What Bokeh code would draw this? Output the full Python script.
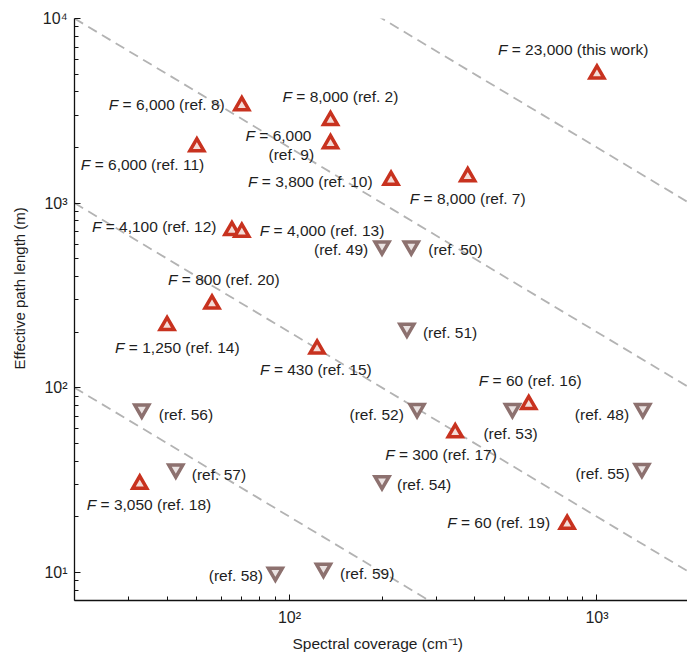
from bokeh.plotting import figure
from bokeh.models import ColumnDataSource, FixedTicker, Range1d, Title
from bokeh.core.properties import value
from bokeh.embed import file_html
from bokeh.resources import INLINE

# ---------------- data ----------------
up_refs = ["this work", "2", "7", "8", "9", "10", "11", "12", "13", "14",
           "15", "16", "17", "18", "19", "20"]
up_F = ["23,000", "8,000", "8,000", "6,000", "6,000", "3,800", "6,000", "4,100",
        "4,000", "1,250", "430", "60", "300", "3,050", "60", "800"]
up_x = [1000, 136, 380, 70, 136, 214, 50, 65, 70, 40, 123, 600, 346, 32.6, 800, 56]
up_y = [5000, 2800, 1390, 3370, 2100, 1330, 2020, 710, 695, 217, 162, 81, 57, 30, 18.2, 284]

down_refs = ["48", "49", "50", "51", "52", "53", "54", "55", "56", "57", "58", "59"]
down_x = [1410, 200, 249, 241, 260, 531, 200, 1400, 33.1, 42.7, 90, 129]
down_y = [77, 586, 586, 210, 77, 77, 31.3, 36.5, 76.5, 36.2, 10.0, 10.5]

guide_products = [2e3, 2e4, 2e5, 2e6]      # path length x coverage = const
x_ticks = [100, 1000]
x_tick_labels = ["10\u00b2", "10\u00b3"]
y_ticks = [10, 100, 1000, 10000]
y_tick_labels = ["10\u00b9", "10\u00b2", "10\u00b3", "10\u2074"]
x_label = "Spectral coverage (cm\u207b\u00b9)"
y_label = "Effective path length (m)"

# ---------------- label layout (pixel offsets from marker) ----------------
up_label_pos = {"this work": (-99, -25), "2": (-48, -24), "7": (-58, 22),
                "8": (-133, -1), "9": (-85, -8), "10": (-143, 1), "11": (-116, 17.5),
                "12": (-140, -4), "13": (18, -2), "14": (-52, 22), "15": (-57, 21),
                "16": (-50, -24), "17": (-70, 22), "18": (-53, 20.5), "19": (-120, -2),
                "20": (-44, -24)}
two_line = {"9": (-62, 11)}
down_label_pos = {"48": (-68, 5.5), "49": (-68, 4), "50": (17, 4), "51": (16, 4),
                  "52": (-67.5, 5.5), "53": (-29, 25), "54": (15, 4), "55": (-66.5, 5),
                  "56": (17, 5), "57": (16, 5), "58": (-66.6, 3), "59": (16.6, 5)}

FONT = value("Liberation Sans")
FS = "15.5px"
F_GAP = 9.5 + 4.3   # italic "F" advance + a space at 15.5px

X_START, X_END = 20, 1970
Y_START, Y_END = 7.03, 10000

p = figure(width=687, height=655, x_axis_type="log", y_axis_type="log",
           x_range=Range1d(X_START, X_END), y_range=Range1d(Y_START, Y_END),
           output_backend="svg", toolbar_location=None,
           min_border_left=73, min_border_right=0, min_border_top=18,
           min_border_bottom=55)
p.grid.visible = False
p.outline_line_color = None
p.background_fill_color = "white"
p.border_fill_color = "white"

# guide lines
gx = [[X_START, X_END] for _ in guide_products]
gy = [[c / X_START, c / X_END] for c in guide_products]
p.multi_line(gx, gy, line_color="#b3b3b3", line_width=1.8, line_dash="10 6")

# markers
p.scatter(up_x, up_y, marker="triangle", size=14, line_width=3.5,
          line_color="#c8321f", fill_color="#f4dcd7", line_join="miter")
p.scatter(down_x, down_y, marker="inverted_triangle", size=14, line_width=3.5,
          line_color="#8d716f", fill_color="#ebe3e2", line_join="miter")

# labels
fx, fy, fdx, fdy = [], [], [], []
rx, ry, rdx, rdy, rt = [], [], [], [], []
for ref, F, x, y in zip(up_refs, up_F, up_x, up_y):
    dx, dy = up_label_pos[ref]
    fx.append(x); fy.append(y); fdx.append(dx); fdy.append(dy)
    if ref in two_line:
        rx.append(x); ry.append(y); rdx.append(dx + F_GAP); rdy.append(dy)
        rt.append("= " + F)
        ddx, ddy = two_line[ref]
        rx.append(x); ry.append(y); rdx.append(ddx); rdy.append(ddy)
        rt.append("(ref. " + ref + ")")
    else:
        tail = "(this work)" if ref == "this work" else "(ref. " + ref + ")"
        rx.append(x); ry.append(y); rdx.append(dx + F_GAP); rdy.append(dy)
        rt.append("= " + F + " " + tail)
for ref, x, y in zip(down_refs, down_x, down_y):
    dx, dy = down_label_pos[ref]
    rx.append(x); ry.append(y); rdx.append(dx); rdy.append(dy)
    rt.append("(ref. " + ref + ")")

fsrc = ColumnDataSource(dict(x=fx, y=fy, dx=fdx, dy=fdy, t=["F"] * len(fx)))
rsrc = ColumnDataSource(dict(x=rx, y=ry, dx=rdx, dy=rdy, t=rt))
p.text(x="x", y="y", text="t", x_offset="dx", y_offset="dy", source=fsrc,
       text_font=FONT, text_font_size=FS, text_font_style="italic",
       text_align="left", text_baseline="middle", text_color="#1e1e1e")
p.text(x="x", y="y", text="t", x_offset="dx", y_offset="dy", source=rsrc,
       text_font=FONT, text_font_size=FS, text_font_style="normal",
       text_align="left", text_baseline="middle", text_color="#1e1e1e")

# axes
x_minor = [m * 10 ** k for k in (1, 2, 3) for m in range(2, 10)]
y_minor = [m * 10 ** k for k in (0, 1, 2, 3) for m in range(2, 10)]
p.xaxis.ticker = FixedTicker(ticks=x_ticks, minor_ticks=x_minor)
p.yaxis.ticker = FixedTicker(ticks=y_ticks, minor_ticks=y_minor)
p.xaxis.major_label_overrides = dict(zip(x_ticks, x_tick_labels))
p.yaxis.major_label_overrides = dict(zip(y_ticks, y_tick_labels))
for ax in (p.xaxis, p.yaxis):
    ax.axis_line_color = "#111111"
    ax.axis_line_width = 1.3
    ax.major_tick_line_color = "#111111"
    ax.minor_tick_line_color = "#111111"
    ax.major_tick_in = 6
    ax.major_tick_out = 0
    ax.minor_tick_in = 4
    ax.minor_tick_out = 0
    ax.major_label_text_font = "Liberation Sans"
    ax.major_label_text_font_size = "16px"
    ax.major_label_text_color = "#1e1e1e"
p.xaxis.major_label_standoff = 8
p.yaxis.major_label_standoff = 7

# axis titles as side-panel titles (slightly off the frame centre, as in the reference)
p.add_layout(Title(text=x_label, align="left", offset=218, standoff=8,
                   text_font="Liberation Sans", text_font_size="15.5px",
                   text_font_style="normal", text_color="#1e1e1e"), "below")
p.add_layout(Title(text=y_label, align="left", offset=231, standoff=20,
                   vertical_align="top",
                   text_font="Liberation Sans", text_font_size="15px",
                   text_font_style="normal", text_color="#1e1e1e"), "left")

open("out.html", "w").write(file_html(p, INLINE))
